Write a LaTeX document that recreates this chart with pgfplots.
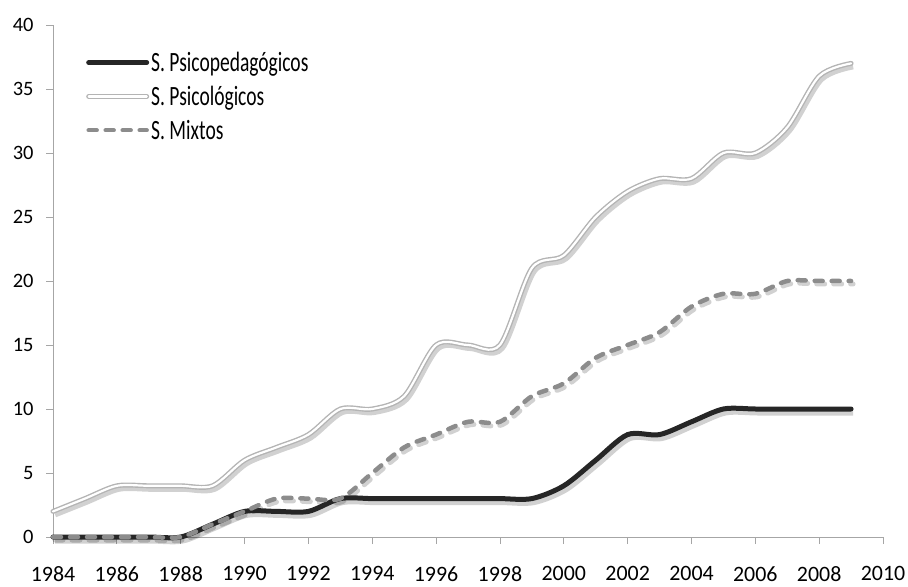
\documentclass[border=0pt]{standalone}
\usepackage{fontspec}
\setmainfont{Carlito}
\usepackage{pgfplots}
\pgfplotsset{compat=1.18}
\definecolor{axisgray}{HTML}{A6A6A6}
\definecolor{blk}{HTML}{262626}
\definecolor{psi}{HTML}{B4B4B4}
\definecolor{mix}{HTML}{8C8C8C}
\newcommand{\legtxt}[1]{\scalebox{0.7}[1]{#1}}
\begin{document}
\begin{tikzpicture}
\begin{axis}[
  at={(0,0)}, anchor=south west,
  scale only axis, width=830bp, height=512bp,
  xmin=1984, xmax=2010, ymin=0, ymax=40,
  xtick={1984,1986,...,2010}, ytick={0,5,...,40},
  axis x line=bottom, axis y line=left,
  axis line style={axisgray, line width=0.8bp, -},
  tick style={axisgray, line width=0.8bp},
  tick align=outside, major tick length=7bp,
  x tick label style={/pgf/number format/1000 sep={}, yshift=-19bp, font=\fontsize{22}{24}\selectfont},
  y tick label style={xshift=-9bp, font=\fontsize{20.5}{22}\selectfont},
  /pgf/number format/assume math mode=true,
  legend style={draw=none, fill=none, at={(0,1)}, anchor=north west, xshift=33bp, yshift=-25bp,
    font=\fontsize{28}{30}\selectfont, row sep=9bp, inner sep=0pt, cells={anchor=west}},
  legend cell align=left,
  legend image code/.code={\draw[#1] (0bp,0bp) -- (58bp,0bp);},
  clip=false,
]
% shadows
\addplot[forget plot, black, opacity=0.18, line width=7bp, smooth, tension=0.5, xshift=2bp, yshift=-3bp] coordinates {
(1984,0)(1985,0)(1986,0)(1987,0)(1988,0)(1989,1)(1990,2)(1991,2)(1992,2)(1993,3)(1994,3)(1995,3)(1996,3)(1997,3)(1998,3)(1999,3)(2000,4)(2001,6)(2002,8)(2003,8)(2004,9)(2005,10)(2006,10)(2007,10)(2008,10)(2009,10)};
\addplot[forget plot, black, opacity=0.18, line width=6bp, smooth, tension=0.5, xshift=2bp, yshift=-3bp] coordinates {
(1984,2)(1985,3)(1986,4)(1987,4)(1988,4)(1989,4)(1990,6)(1991,7)(1992,8)(1993,10)(1994,10)(1995,11)(1996,15)(1997,15)(1998,15)(1999,21)(2000,22)(2001,25)(2002,27)(2003,28)(2004,28)(2005,30)(2006,30)(2007,32)(2008,36)(2009,37)};
\addplot[forget plot, black, opacity=0.18, line width=5bp, line cap=round, dash pattern=on 8bp off 9bp, smooth, tension=0.5, xshift=2bp, yshift=-3bp] coordinates {
(1984,0)(1985,0)(1986,0)(1987,0)(1988,0)(1989,1)(1990,2)(1991,3)(1992,3)(1993,3)(1994,5)(1995,7)(1996,8)(1997,9)(1998,9)(1999,11)(2000,12)(2001,14)(2002,15)(2003,16)(2004,18)(2005,19)(2006,19)(2007,20)(2008,20)(2009,20)};
% series
\addplot[blk, line width=5bp, line cap=round, smooth, tension=0.5] coordinates {
(1984,0)(1985,0)(1986,0)(1987,0)(1988,0)(1989,1)(1990,2)(1991,2)(1992,2)(1993,3)(1994,3)(1995,3)(1996,3)(1997,3)(1998,3)(1999,3)(2000,4)(2001,6)(2002,8)(2003,8)(2004,9)(2005,10)(2006,10)(2007,10)(2008,10)(2009,10)};
\addlegendentry{\legtxt{S. Psicopedagógicos}}
\addplot[psi, line width=1.4bp, double=white, double distance=2.2bp, line cap=round, smooth, tension=0.5] coordinates {
(1984,2)(1985,3)(1986,4)(1987,4)(1988,4)(1989,4)(1990,6)(1991,7)(1992,8)(1993,10)(1994,10)(1995,11)(1996,15)(1997,15)(1998,15)(1999,21)(2000,22)(2001,25)(2002,27)(2003,28)(2004,28)(2005,30)(2006,30)(2007,32)(2008,36)(2009,37)};
\addlegendentry{\legtxt{S. Psicológicos}}
\addplot[mix, line width=4.5bp, line cap=round, dash pattern=on 8bp off 9bp, smooth, tension=0.5] coordinates {
(1984,0)(1985,0)(1986,0)(1987,0)(1988,0)(1989,1)(1990,2)(1991,3)(1992,3)(1993,3)(1994,5)(1995,7)(1996,8)(1997,9)(1998,9)(1999,11)(2000,12)(2001,14)(2002,15)(2003,16)(2004,18)(2005,19)(2006,19)(2007,20)(2008,20)(2009,20)};
\addlegendentry{\legtxt{S. Mixtos}}
\end{axis}
\pgfresetboundingbox
\path (-53bp,-50bp) rectangle (855bp,537bp);
\end{tikzpicture}
\end{document}
